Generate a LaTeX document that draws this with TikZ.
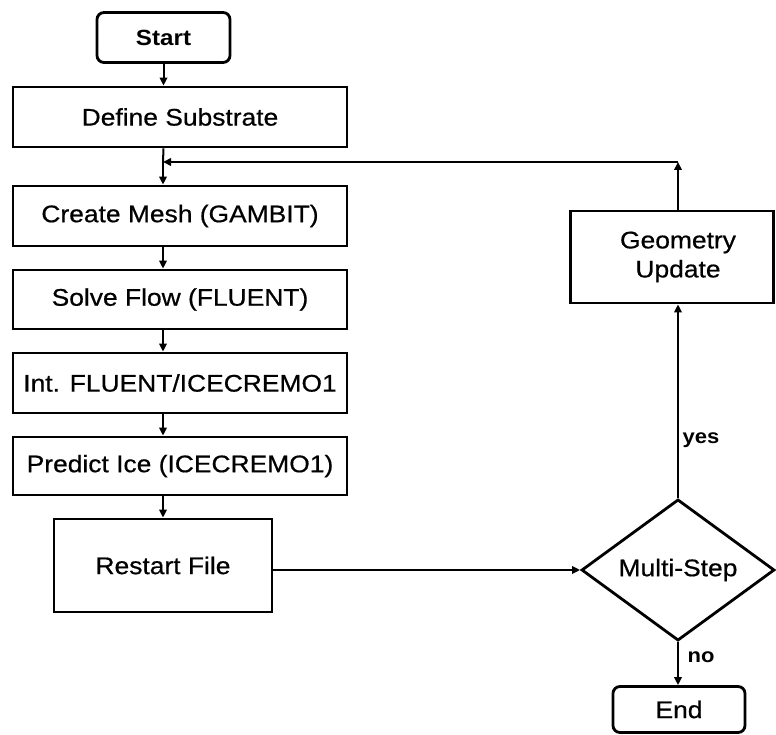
\documentclass[tikz,border=0pt]{standalone}
\usepackage{fontspec}
\setmainfont{Liberation Sans}[FakeStretch=1.1, UprightFeatures={FakeBold=0.6}]
\usetikzlibrary{shapes.geometric,arrows.meta,calc}
\begin{document}
\begin{tikzpicture}[x=1pt,y=-1pt,
 box/.style={draw, line width=2.8pt, inner sep=0pt, font=\fontsize{24}{29}\selectfont, align=center},
 rbox/.style={box, rounded corners=7pt},
 conn/.style={line width=2pt, -{Triangle[length=8pt,width=7.5pt]}},
 plain/.style={line width=2pt},
 lbl/.style={font=\fontsize{20}{24}\selectfont\bfseries}]
\useasboundingbox (0,0) rectangle (776,735);
% nodes
\node[rbox, minimum width=133pt, minimum height=50pt, font=\fontsize{22}{26}\selectfont\bfseries] (start) at (163.5,37.5) {Start};
\node[box, minimum width=334pt, minimum height=60pt] (def) at (180,117) {Define Substrate};
\node[box, minimum width=334pt, minimum height=60pt] (mesh) at (180,216) {Create Mesh (GAMBIT)};
\node[box, minimum width=334pt, minimum height=59pt] (solve) at (180,299.5) {Solve Flow (FLUENT)};
\node[box, minimum width=334pt, minimum height=60pt] (int) at (180,383) {Int. FLUENT/ICECREMO1};
\node[box, minimum width=334pt, minimum height=58pt] (pred) at (180,466) {Predict Ice (ICECREMO1)};
\node[box, minimum width=218pt, minimum height=93pt] (restart) at (163,565.5) {Restart File};
\node[box, minimum width=203pt, minimum height=92pt] (geo) at (672,257) {};
\node[font=\fontsize{24}{29}\selectfont, align=center] (geotxt) at (678,257) {Geometry\\Update};
\node[draw, diamond, line width=2.8pt, inner sep=0pt, minimum width=193pt, minimum height=131pt, font=\fontsize{24}{29}\selectfont] (dia) at (678,570) {Multi-Step};
\node[rbox, minimum width=132pt, minimum height=46pt] (end) at (679,709.5) {End};
% coordinates
\coordinate (j) at (163,162);
\coordinate (corner) at (678,162);
% connectors
\draw[conn] (start.south) -- (start.south |- def.north);
\draw[plain] (start.south |- def.south) -- (j);
\draw[conn] (j) -- (j |- mesh.north);
\draw[conn] (j |- mesh.south) -- (j |- solve.north);
\draw[conn] (j |- solve.south) -- (j |- int.north);
\draw[conn] (j |- int.south) -- (j |- pred.north);
\draw[conn] (j |- pred.south) -- (restart.north);
\draw[conn] (restart.east |- dia.west) -- (dia.west);
\draw[conn] (dia.north) -- (dia.north |- geo.south);
\draw[conn] (dia.north |- geo.north) -- (corner);
\draw[conn] (corner) -- (j);
\draw[conn] (dia.south) -- (dia.south |- end.north);
% labels
\node[lbl] (yes) at (701,440) {yes};
\node[lbl] (no) at (701,657) {no};
\end{tikzpicture}
\end{document}
